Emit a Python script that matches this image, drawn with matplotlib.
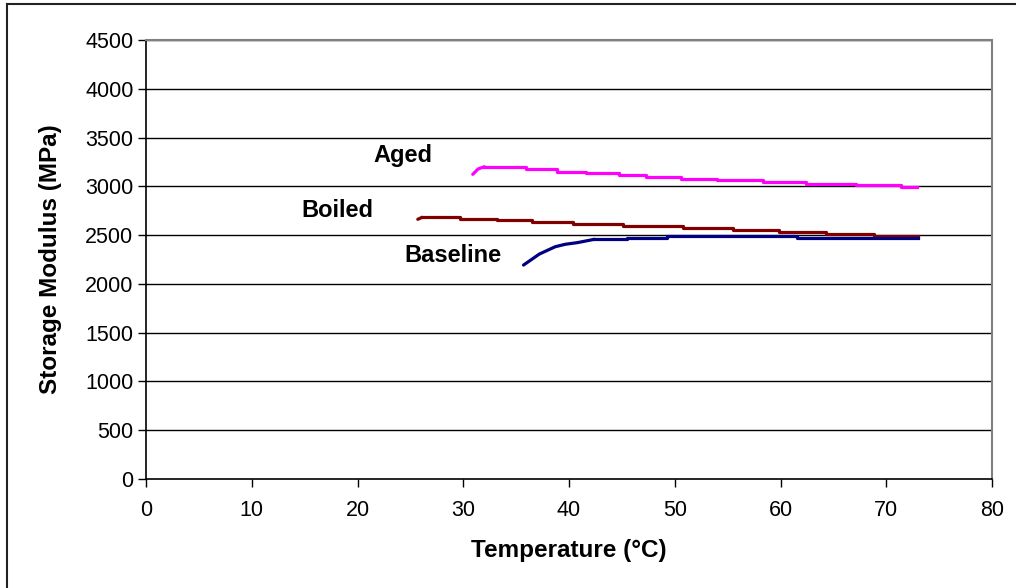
import matplotlib
matplotlib.use("Agg")
import matplotlib.pyplot as plt
from matplotlib.lines import Line2D

plt.rcParams['font.family'] = ['Liberation Sans', 'DejaVu Sans']

# (temperature in C, storage modulus in MPa)
# rising / hooked start of each curve
aged_rise_t = [30.9, 31.4, 32.0]
aged_rise_e = [3123, 3178, 3201]
boiled_rise_t = [25.7, 26.1]
boiled_rise_e = [2662, 2682]
base_rise_t = [35.7, 37.2, 38.7, 39.65, 40.8, 42.4]
base_rise_e = [2193, 2306, 2381, 2406, 2423, 2457]

# stepped plateaus (value holds from this temperature to the next)
aged_t = [32.0, 35.9, 38.9, 41.6, 44.7, 47.3, 50.6, 54.0, 58.3, 62.4, 67.1, 71.4, 72.9]
aged_e = [3201, 3178, 3150, 3136, 3116, 3096, 3075, 3065, 3044, 3027, 3010, 2996, 2996]
boiled_t = [26.1, 29.7, 33.2, 36.5, 40.4, 45.1, 50.8, 55.5, 59.9, 64.3, 68.8, 73.0]
boiled_e = [2682, 2668, 2651, 2631, 2610, 2593, 2576, 2556, 2535, 2514, 2491, 2491]
base_t = [42.4, 45.5, 49.3, 61.6, 73.0]
base_e = [2457, 2467, 2491, 2474, 2474]

labels = ['Aged', 'Boiled', 'Baseline']
label_pos = [(24.3, 3321), (18.1, 2757), (29.0, 2296)]

fig = plt.figure(figsize=(10.16, 5.88), dpi=100)
ax = fig.add_axes([146 / 1016, 1 - 479 / 588, 846 / 1016, 439 / 588])

# horizontal gridlines
for v in range(500, 4501, 500):
    ax.axhline(v, color='black', linewidth=1.0, zorder=1)

lw = 2.3
ax.plot(aged_rise_t, aged_rise_e, color='#FF00FF', linewidth=lw, solid_capstyle='round')
ax.plot(aged_t, aged_e, color='#FF00FF', linewidth=lw, drawstyle='steps-post')
ax.plot(boiled_rise_t, boiled_rise_e, color='#800000', linewidth=lw, solid_capstyle='round')
ax.plot(boiled_t, boiled_e, color='#800000', linewidth=lw, drawstyle='steps-post')
ax.plot(base_rise_t, base_rise_e, color='#000080', linewidth=lw, solid_capstyle='round')
ax.plot(base_t, base_e, color='#000080', linewidth=lw, drawstyle='steps-post')

for txt, (x, y) in zip(labels, label_pos):
    ax.text(x, y, txt, ha='center', va='center', fontsize=17, fontweight='bold')

ax.set_xlim(0, 80)
ax.set_ylim(0, 4500)
ax.set_xticks(range(0, 81, 10))
ax.set_yticks(range(0, 4501, 500))
ax.tick_params(direction='out', length=6, width=1, labelsize=15.5, colors='black')
ax.tick_params(axis='x', pad=9)
ax.tick_params(axis='y', pad=3)

for side in ['left', 'bottom']:
    ax.spines[side].set_color('black')
    ax.spines[side].set_linewidth(1.2)
for side in ['top', 'right']:
    ax.spines[side].set_color('#808080')
    ax.spines[side].set_linewidth(1.5)

ax.set_xlabel('Temperature (°C)', fontsize=17.5, fontweight='bold', labelpad=13)
ax.set_ylabel('Storage Modulus (MPa)', fontsize=17.5, fontweight='bold', labelpad=17)

# outer chart frame (cut off at right and bottom)
fig.add_artist(Line2D([7 / 1016, 7 / 1016], [0, 1 - 4 / 588], color='#222222', linewidth=1.5))
fig.add_artist(Line2D([7 / 1016, 1], [1 - 4 / 588, 1 - 4 / 588], color='#222222', linewidth=1.5))

fig.savefig('out.png', dpi=100)
